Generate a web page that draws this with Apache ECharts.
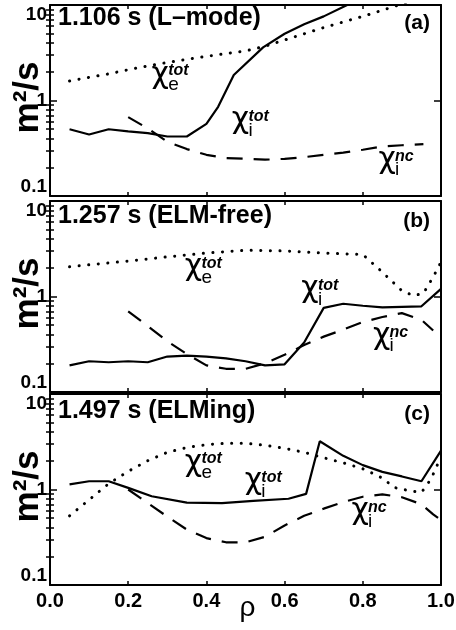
<!DOCTYPE html>
<html>
<head>
<meta charset="utf-8">
<script src="https://cdn.jsdelivr.net/npm/echarts@6/dist/echarts.min.js"></script>
<style>
html, body { margin: 0; padding: 0; background: #fff; }
#chart { width: 456px; height: 630px; }
</style>
</head>
<body>
<div id="chart"></div>
<script>
// panel (a) 1.106 s, L-mode
const rhoTiA = [0.05, 0.10, 0.15, 0.20, 0.25, 0.30, 0.35, 0.40, 0.43, 0.47, 0.545, 0.60, 0.65, 0.70, 0.76, 0.82];
const chiTiA = [0.50, 0.44, 0.50, 0.475, 0.455, 0.42, 0.42, 0.57, 0.86, 1.85, 3.6, 5.0, 6.3, 7.6, 10.0, 12.5];
const rhoTeA = [0.05, 0.10, 0.15, 0.20, 0.25, 0.30, 0.35, 0.40, 0.45, 0.50, 0.55, 0.60, 0.70, 0.80, 0.875, 0.95];
const chiTeA = [1.6, 1.75, 1.9, 2.1, 2.3, 2.5, 2.7, 2.9, 3.1, 3.3, 3.7, 4.3, 5.8, 7.6, 9.5, 12];
const rhoNcA = [0.20, 0.25, 0.30, 0.35, 0.40, 0.45, 0.50, 0.55, 0.60, 0.65, 0.70, 0.75, 0.80, 0.85, 0.90, 0.955];
const chiNcA = [0.67, 0.51, 0.37, 0.31, 0.27, 0.25, 0.245, 0.24, 0.245, 0.255, 0.27, 0.285, 0.305, 0.33, 0.34, 0.35];

// panel (b) 1.257 s, ELM-free
const rhoTiB = [0.05, 0.10, 0.15, 0.20, 0.25, 0.30, 0.35, 0.40, 0.45, 0.50, 0.55, 0.60, 0.65, 0.70, 0.75, 0.80, 0.85, 0.90, 0.95, 1.00];
const chiTiB = [0.19, 0.21, 0.205, 0.21, 0.205, 0.235, 0.24, 0.235, 0.225, 0.21, 0.19, 0.195, 0.33, 0.76, 0.84, 0.8, 0.77, 0.78, 0.79, 1.2];
const rhoTeB = [0.05, 0.10, 0.20, 0.30, 0.40, 0.50, 0.60, 0.70, 0.80, 0.85, 0.90, 0.93, 0.955, 0.98, 1.00];
const chiTeB = [2.05, 2.15, 2.35, 2.6, 2.85, 3.05, 3.0, 2.85, 2.75, 1.8, 1.15, 1.02, 1.08, 1.6, 2.3];
const rhoNcB = [0.20, 0.25, 0.30, 0.35, 0.40, 0.45, 0.50, 0.55, 0.60, 0.65, 0.70, 0.75, 0.80, 0.85, 0.90, 0.95, 0.98];
const chiNcB = [0.70, 0.49, 0.34, 0.25, 0.19, 0.175, 0.175, 0.2, 0.245, 0.31, 0.38, 0.45, 0.54, 0.61, 0.67, 0.57, 0.44];

// panel (c) 1.497 s, ELMing
const rhoTiC = [0.05, 0.10, 0.15, 0.20, 0.26, 0.35, 0.44, 0.52, 0.61, 0.655, 0.69, 0.75, 0.80, 0.85, 0.90, 0.95, 1.00];
const chiTiC = [1.13, 1.22, 1.22, 1.04, 0.85, 0.73, 0.72, 0.76, 0.80, 0.90, 3.2, 2.25, 1.8, 1.53, 1.37, 1.22, 2.55];
const rhoTeC = [0.05, 0.10, 0.15, 0.20, 0.25, 0.30, 0.35, 0.40, 0.45, 0.50, 0.55, 0.60, 0.65, 0.70, 0.75, 0.80, 0.85, 0.88, 0.92, 0.95, 0.975, 1.00];
const chiTeC = [0.53, 0.78, 1.15, 1.55, 2.0, 2.45, 2.75, 2.95, 3.05, 3.05, 2.9, 2.7, 2.45, 2.15, 1.9, 1.65, 1.32, 1.05, 0.97, 0.93, 1.3, 2.2];
const rhoNcC = [0.20, 0.25, 0.30, 0.35, 0.40, 0.45, 0.50, 0.55, 0.60, 0.65, 0.70, 0.75, 0.80, 0.85, 0.90, 0.95, 0.98, 1.00];
const chiNcC = [1.0, 0.72, 0.52, 0.38, 0.31, 0.28, 0.28, 0.32, 0.42, 0.53, 0.63, 0.74, 0.84, 0.89, 0.83, 0.7, 0.55, 0.48];

const panelTitles = ['1.106 s (L\u2013mode)', '1.257 s (ELM-free)', '1.497 s (ELMing)'];
const panelTags = ['(a)', '(b)', '(c)'];
const yMajor = [0.1, 1, 10];
const yMinor = [0.2, 0.3, 0.4, 0.5, 0.6, 0.7, 0.8, 0.9, 2, 3, 4, 5, 6, 7, 8, 9];

// chi labels: [rho, value, subscript, superscript]
const annA = [[0.282, 1.64, 'e', 'tot'], [0.487, 0.55, 'i', 'tot'], [0.862, 0.21, 'i', 'nc']];
const annB = [[0.367, 1.78, 'e', 'tot'], [0.665, 1.05, 'i', 'tot'], [0.848, 0.34, 'i', 'nc']];
const annC = [[0.367, 1.69, 'e', 'tot'], [0.52, 1.08, 'i', 'tot'], [0.793, 0.52, 'i', 'nc']];

const FONT = 'Liberation Sans';
const gridTops = [5, 201, 394];
const panels = [
  [[rhoTiA, chiTiA, 'solid'], [rhoTeA, chiTeA, 'dotted'], [rhoNcA, chiNcA, 'dashed']],
  [[rhoTiB, chiTiB, 'solid'], [rhoTeB, chiTeB, 'dotted'], [rhoNcB, chiNcB, 'dashed']],
  [[rhoTiC, chiTiC, 'solid'], [rhoTeC, chiTeC, 'dotted'], [rhoNcC, chiNcC, 'dashed']]
];
const anns = [annA, annB, annC];

function zip(xs, ys) {
  return xs.map((x, i) => [x, ys[i]]);
}

const frame = { show: true, onZero: false, lineStyle: { color: '#000', width: 2 } };

let grid = [], xAxis = [], yAxis = [], series = [], title = [];
gridTops.forEach((top, i) => {
  grid.push({ left: 50, width: 391, top: top, height: 191, outerBoundsMode: 'none' });
  ['bottom', 'top'].forEach(pos => {
    xAxis.push({
      type: 'value', gridIndex: i, position: pos, min: 0, max: 1, interval: 0.2,
      axisLine: frame,
      axisTick: { show: true, inside: true, length: 4, lineStyle: { color: '#000', width: 1.5 } },
      axisLabel: {
        show: pos === 'bottom' && i === 2, margin: 6, color: '#000',
        fontFamily: FONT, fontWeight: 'bold', fontSize: 20,
        formatter: v => v.toFixed(1)
      },
      splitLine: { show: false }
    });
  });
  ['left', 'right'].forEach(pos => {
    yAxis.push({
      type: 'log', logBase: 10, gridIndex: i, position: pos, min: 0.1, max: 10,
      axisLine: frame,
      axisTick: { show: true, inside: true, length: 7, customValues: yMajor, lineStyle: { color: '#000', width: 1.5 } },
      axisLabel: {
        show: pos === 'left', margin: 3, color: '#000', customValues: yMajor,
        fontFamily: FONT, fontWeight: 'bold', fontSize: 19,
        verticalAlignMinLabel: 'bottom', verticalAlignMaxLabel: 'top',
        formatter: v => String(v)
      },
      splitLine: { show: false }
    });
  });
  ['left', 'right'].forEach(pos => {
    yAxis.push({
      type: 'log', logBase: 10, gridIndex: i, position: pos, min: 0.1, max: 10,
      axisLine: { show: false },
      axisTick: { show: true, inside: true, length: 4, customValues: yMinor, lineStyle: { color: '#000', width: 1.5 } },
      axisLabel: { show: false },
      splitLine: { show: false }
    });
  });
  panels[i].forEach(([xs, ys, kind]) => {
    let lineStyle = { color: '#000', width: 2.2, type: 'solid' };
    if (kind === 'dashed') lineStyle = { color: '#000', width: 2.2, type: [16, 11] };
    if (kind === 'dotted') lineStyle = { color: '#000', width: 3, type: [0.1, 9.5], cap: 'round' };
    series.push({
      type: 'line', xAxisIndex: 2 * i, yAxisIndex: 4 * i,
      data: zip(xs, ys), symbol: 'none', showSymbol: false, silent: true,
      lineStyle: lineStyle, clip: true, animation: false
    });
  });
  title.push({
    text: panelTitles[i], left: 58, top: top + [1, 3, 5][i], padding: 0,
    textStyle: { fontFamily: FONT, fontWeight: 'bold', fontSize: 25, color: '#000' }
  });
  title.push({
    text: panelTags[i], right: 26, top: top + [8, 10, 10][i], padding: 0,
    textStyle: { fontFamily: FONT, fontWeight: 'bold', fontSize: 21, color: '#000' }
  });
});

const chart = echarts.init(document.getElementById('chart'), null, { renderer: 'canvas' });
chart.setOption({
  backgroundColor: '#fff',
  animation: false,
  textStyle: { fontFamily: FONT },
  title: title,
  grid: grid,
  xAxis: xAxis,
  yAxis: yAxis,
  series: series
});

// chi labels and axis names placed through the axes of each panel
const graphic = [];
anns.forEach((list, i) => {
  const one = chart.convertToPixel({ xAxisIndex: 2 * i, yAxisIndex: 4 * i }, [0, 1]);
  graphic.push({
    type: 'text', x: 28, y: one[1] - 3, rotation: Math.PI / 2,
    style: { text: 'm\u00b2/s', font: 'bold 35px "' + FONT + '"', fill: '#000', align: 'center', verticalAlign: 'middle' }
  });
  list.forEach(([x, y, sub, sup]) => {
    const p = chart.convertToPixel({ xAxisIndex: 2 * i, yAxisIndex: 4 * i }, [x, y]);
    graphic.push({
      type: 'text', x: p[0], y: p[1] - 5,
      style: { text: '\u03c7', font: '30px "DejaVu Sans"', fill: '#000', align: 'center', verticalAlign: 'middle' }
    });
    graphic.push({
      type: 'text', x: p[0] + 8, y: p[1] - 9,
      style: { text: sup, font: 'italic bold 16px "' + FONT + '"', fill: '#000', align: 'left', verticalAlign: 'middle' }
    });
    graphic.push({
      type: 'text', x: p[0] + 8, y: p[1] + 5,
      style: { text: sub, font: '19px "' + FONT + '"', fill: '#000', align: 'left', verticalAlign: 'middle' }
    });
  });
});
const bottom = chart.convertToPixel({ xAxisIndex: 4, yAxisIndex: 8 }, [0.5, 0.1]);
graphic.push({
  type: 'text', x: bottom[0] + 2, y: 608,
  style: { text: '\u03c1', font: '28px "' + FONT + '"', fill: '#000', align: 'center', verticalAlign: 'middle' }
});
chart.setOption({ graphic: graphic });
</script>
</body>
</html>
